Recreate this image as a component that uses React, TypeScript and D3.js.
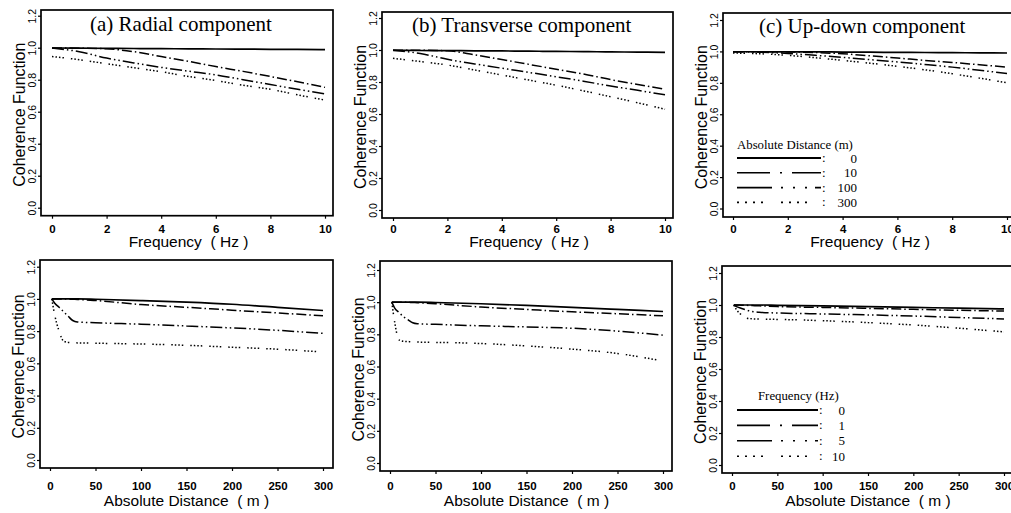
import React, { useRef, useEffect } from "react";
import * as d3 from "d3";

// x grids: frequency (Hz) for the upper row, absolute distance (m) for the lower row
const frequencies = [0, 1, 2, 3, 4, 5, 6, 7, 8, 9, 10];
const distances = [2, 5, 10, 15, 20, 25, 30, 50, 100, 150, 200, 250, 300];

// (a) radial, coherence vs frequency, one line per distance
const radialD0 = [0.998, 0.997, 0.996, 0.995, 0.994, 0.993, 0.992, 0.991, 0.99, 0.989, 0.988];
const radialD10 = [0.998, 0.997, 0.993, 0.975, 0.945, 0.915, 0.882, 0.852, 0.82, 0.787, 0.752];
const radialD100 = [0.998, 0.975, 0.935, 0.905, 0.877, 0.853, 0.83, 0.8, 0.77, 0.74, 0.711];
const radialD300 = [0.945, 0.925, 0.9, 0.875, 0.85, 0.82, 0.795, 0.765, 0.74, 0.705, 0.673];

// (b) transverse
const transD0 = [0.998, 0.997, 0.996, 0.995, 0.994, 0.993, 0.991, 0.99, 0.988, 0.987, 0.985];
const transD10 = [0.998, 0.998, 0.995, 0.97, 0.94, 0.91, 0.88, 0.85, 0.815, 0.785, 0.755];
const transD100 = [0.998, 0.978, 0.942, 0.913, 0.886, 0.86, 0.833, 0.805, 0.775, 0.748, 0.72];
const transD300 = [0.948, 0.928, 0.906, 0.875, 0.844, 0.812, 0.78, 0.745, 0.708, 0.67, 0.63];

// (c) up-down
const updownD0 = [0.998, 0.998, 0.997, 0.997, 0.996, 0.995, 0.994, 0.993, 0.992, 0.991, 0.99];
const updownD10 = [0.998, 0.998, 0.997, 0.993, 0.985, 0.972, 0.958, 0.943, 0.93, 0.915, 0.9];
const updownD100 = [0.998, 0.995, 0.987, 0.975, 0.962, 0.948, 0.933, 0.917, 0.9, 0.88, 0.86];
const updownD300 = [0.99, 0.985, 0.975, 0.96, 0.943, 0.925, 0.905, 0.883, 0.858, 0.83, 0.8];

// lower row, coherence vs distance, one line per frequency
const radialF0 = [1, 1, 1, 1, 1, 1, 1, 0.998, 0.99, 0.98, 0.967, 0.948, 0.928];
const radialF1 = [1, 1, 1, 1, 0.999, 0.998, 0.997, 0.99, 0.965, 0.948, 0.93, 0.913, 0.895];
const radialF5 = [1, 0.975, 0.948, 0.92, 0.892, 0.866, 0.857, 0.852, 0.843, 0.832, 0.82, 0.805, 0.786];
const radialF10 = [1, 0.905, 0.8, 0.738, 0.73, 0.728, 0.727, 0.725, 0.72, 0.712, 0.7, 0.688, 0.67];

const transF0 = [1, 1, 1, 1, 1, 1, 1, 0.998, 0.99, 0.98, 0.968, 0.955, 0.942];
const transF1 = [1, 1, 1, 1, 0.999, 0.998, 0.997, 0.99, 0.97, 0.955, 0.94, 0.928, 0.915];
const transF5 = [1, 0.965, 0.935, 0.909, 0.89, 0.872, 0.866, 0.862, 0.853, 0.846, 0.838, 0.82, 0.795];
const transF10 = [1, 0.88, 0.765, 0.757, 0.755, 0.753, 0.752, 0.75, 0.743, 0.728, 0.708, 0.681, 0.634];

const updownF0 = [1, 1, 1, 1, 1, 1, 1, 0.998, 0.994, 0.99, 0.985, 0.98, 0.976];
const updownF1 = [1, 1, 0.999, 0.998, 0.997, 0.996, 0.995, 0.99, 0.985, 0.979, 0.973, 0.967, 0.962];
const updownF5 = [1, 0.99, 0.98, 0.97, 0.962, 0.957, 0.954, 0.95, 0.944, 0.938, 0.931, 0.922, 0.913];
const updownF10 = [1, 0.97, 0.94, 0.92, 0.915, 0.913, 0.912, 0.91, 0.902, 0.89, 0.875, 0.855, 0.832];

const distanceLegend = ["0", "10", "100", "300"];
const frequencyLegend = ["0", "1", "5", "10"];
const frequencyTicks = [0, 2, 4, 6, 8, 10];
const distanceTicks = [0, 50, 100, 150, 200, 250, 300];
const coherenceTicks = [0, 0.2, 0.4, 0.6, 0.8, 1.0, 1.2];

const ink = "#000";
const sans = "'Liberation Sans', Arial, sans-serif";
const serif = "'Liberation Serif', 'Times New Roman', serif";

// solid, dash-dot, dash-dot-dot, dotted
const curveDash = [null, "10,3,1.5,3", "12,3,1.5,3,1.5,3", "1.5,2,1.5,2,1.5,2,1.5,7"];
const legendDash = [null, "33,10,2,10", "35,9,2,10,2,10,2,8", "2,6,2,6,2,6,2,18"];

const panels = [
	{
		title: "(a) Radial component", titleX: 90, titleY: 31,
		box: [41, 10, 333, 215.7], xr: [52, 325], yr: [207.7, 15.7],
		xs: frequencies, xDomain: [0, 10], ticks: frequencyTicks, tickY: 233,
		xTitle: "Frequency  ( Hz )", xTitleY: 247,
		series: [radialD0, radialD10, radialD100, radialD300],
	},
	{
		title: "(b) Transverse component", titleX: 412, titleY: 32,
		box: [382, 12, 673, 218], xr: [393, 665], yr: [210, 18],
		xs: frequencies, xDomain: [0, 10], ticks: frequencyTicks, tickY: 233,
		xTitle: "Frequency  ( Hz )", xTitleY: 247,
		series: [transD0, transD10, transD100, transD300],
	},
	{
		title: "(c) Up-down component", titleX: 759, titleY: 33,
		box: [723, 13, 1016, 217], xr: [733, 1007], yr: [208.5, 20],
		xs: frequencies, xDomain: [0, 10], ticks: frequencyTicks, tickY: 233,
		xTitle: "Frequency  ( Hz )", xTitleY: 247,
		series: [updownD0, updownD10, updownD100, updownD300],
		legend: {
			title: "Absolute Distance (m)", titleX: 737, titleY: 149,
			x: 737, len: 84, y0: 158, dy: 14.8, colonX: 822, numX: 857, labels: distanceLegend,
		},
	},
	{
		box: [40, 260, 333, 468], xr: [50, 323], yr: [460, 266.7],
		xs: distances, xDomain: [0, 300], ticks: distanceTicks, tickY: 490,
		xTitle: "Absolute Distance  ( m )", xTitleY: 506,
		series: [radialF0, radialF1, radialF5, radialF10],
	},
	{
		box: [380, 261, 672, 471], xr: [390, 663], yr: [463, 270],
		xs: distances, xDomain: [0, 300], ticks: distanceTicks, tickY: 490,
		xTitle: "Absolute Distance  ( m )", xTitleY: 506,
		series: [transF0, transF1, transF5, transF10],
	},
	{
		box: [722, 266, 1016, 473], xr: [732, 1004], yr: [465, 273],
		xs: distances, xDomain: [0, 300], ticks: distanceTicks, tickY: 490,
		xTitle: "Absolute Distance  ( m )", xTitleY: 506,
		series: [updownF0, updownF1, updownF5, updownF10],
		legend: {
			title: "Frequency (Hz)", titleX: 758, titleY: 400,
			x: 737, len: 81, y0: 410, dy: 15.4, colonX: 819, numX: 845, labels: frequencyLegend,
		},
	},
];

const drawPanel = (svg, p) => {
	const [left, top, right, bottom] = p.box;
	const x = d3.scaleLinear().domain(p.xDomain).range(p.xr);
	const y = d3.scaleLinear().domain([0, 1.2]).range(p.yr);
	const g = svg.append("g");

	g.append("rect")
		.attr("x", left)
		.attr("y", top)
		.attr("width", right - left)
		.attr("height", bottom - top)
		.attr("fill", "none")
		.attr("stroke", ink)
		.attr("stroke-width", 1.7);

	// x axis, ticks hanging below the frame
	const xAxis = g.append("g")
		.attr("transform", `translate(0, ${bottom})`)
		.call(d3.axisBottom(x).tickValues(p.ticks).tickSize(3).tickFormat(d3.format("d")));
	xAxis.select(".domain").remove();
	xAxis.selectAll("line").attr("stroke", ink).attr("stroke-width", 1.2);
	xAxis.selectAll("text")
		.attr("y", p.tickY - bottom)
		.attr("dy", null)
		.attr("fill", ink)
		.style("font-family", sans)
		.style("font-size", "11.5px")
		.style("font-weight", "bold");

	// y axis with rotated labels
	const yAxis = g.append("g")
		.attr("transform", `translate(${left}, 0)`)
		.call(d3.axisLeft(y).tickValues(coherenceTicks).tickSize(3).tickFormat(d3.format(".1f")));
	yAxis.select(".domain").remove();
	yAxis.selectAll("line").attr("stroke", ink).attr("stroke-width", 1.2);
	yAxis.selectAll("text")
		.attr("x", null)
		.attr("dy", null)
		.attr("text-anchor", "middle")
		.attr("transform", "translate(-5, 0) rotate(-90)")
		.attr("fill", ink)
		.style("font-family", sans)
		.style("font-size", "10.5px");

	const line = d3.line()
		.x((d, i) => x(p.xs[i]))
		.y(d => y(d))
		.curve(d3.curveMonotoneX);

	p.series.forEach((values, k) => {
		g.append("path")
			.datum(values)
			.attr("d", line)
			.attr("fill", "none")
			.attr("stroke", ink)
			.attr("stroke-width", k === 0 ? 1.7 : 1.5)
			.attr("stroke-dasharray", curveDash[k]);
	});

	g.append("text")
		.attr("transform", `translate(${left - 16}, ${(p.yr[0] + p.yr[1]) / 2 + 3}) rotate(-90)`)
		.attr("text-anchor", "middle")
		.attr("fill", ink)
		.style("font-family", sans)
		.style("font-size", "16px")
		.text("Coherence Function");

	g.append("text")
		.attr("x", (p.xr[0] + p.xr[1]) / 2)
		.attr("y", p.xTitleY)
		.attr("text-anchor", "middle")
		.attr("fill", ink)
		.style("font-family", sans)
		.style("font-size", "15.5px")
		.style("white-space", "pre")
		.text(p.xTitle);

	if (p.title) {
		g.append("text")
			.attr("x", p.titleX)
			.attr("y", p.titleY)
			.attr("fill", ink)
			.style("font-family", serif)
			.style("font-size", "21px")
			.text(p.title);
	}

	if (p.legend) {
		const L = p.legend;
		g.append("text")
			.attr("x", L.titleX)
			.attr("y", L.titleY)
			.attr("fill", ink)
			.style("font-family", serif)
			.style("font-size", "12.8px")
			.text(L.title);

		L.labels.forEach((label, k) => {
			const ly = L.y0 + k * L.dy;
			g.append("line")
				.attr("x1", L.x)
				.attr("x2", L.x + L.len)
				.attr("y1", ly)
				.attr("y2", ly)
				.attr("stroke", ink)
				.attr("stroke-width", k === 0 ? 2 : 1.6)
				.attr("stroke-dasharray", legendDash[k]);
			g.append("text")
				.attr("x", L.colonX)
				.attr("y", ly + 4)
				.attr("fill", ink)
				.style("font-family", serif)
				.style("font-size", "13px")
				.text(":");
			g.append("text")
				.attr("x", L.numX)
				.attr("y", ly + 4.5)
				.attr("text-anchor", "end")
				.attr("fill", ink)
				.style("font-family", serif)
				.style("font-size", "13px")
				.text(label);
		});
	}
};

const CoherenceFigure = () => {
	const chartRef = useRef(null);

	useEffect(() => {
		const width = 1011;
		const height = 513;

		d3.select(chartRef.current).selectAll("*").remove();

		const svg = d3
			.select(chartRef.current)
			.attr("width", width)
			.attr("height", height);

		svg.append("rect").attr("width", width).attr("height", height).attr("fill", "#fff");

		panels.forEach(p => drawPanel(svg, p));

		// caption, cut off by the lower edge
		svg.append("text")
			.attr("x", 8)
			.attr("y", 524)
			.attr("fill", ink)
			.style("font-family", serif)
			.style("font-size", "15px")
			.style("font-weight", "bold")
			.text("Fig. 1.  The");
	}, []);

	return <svg ref={chartRef} style={{ position: "absolute", left: 0, top: 0 }}></svg>;
};

export default function App() {
	return <CoherenceFigure />;
}
